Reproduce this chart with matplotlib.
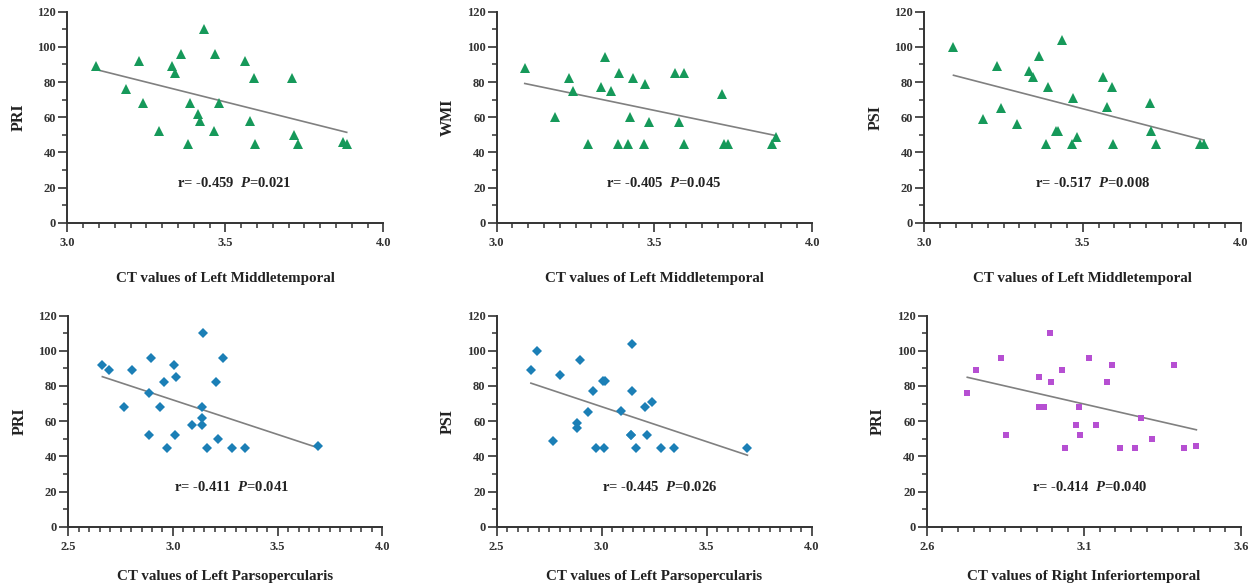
import numpy as np
import matplotlib
matplotlib.use("Agg")
import matplotlib.pyplot as plt
from matplotlib.ticker import MultipleLocator, FormatStrFormatter

plt.rcParams['font.family'] = ['Liberation Serif', 'DejaVu Serif']
plt.rcParams['font.weight'] = 'bold'
plt.rcParams['mathtext.fontset'] = 'custom'
plt.rcParams['mathtext.it'] = 'Liberation Serif:italic:bold'
plt.rcParams['mathtext.rm'] = 'Liberation Serif:bold'
plt.rcParams['mathtext.bf'] = 'Liberation Serif:bold'

# top row: CT values of Left Middletemporal
mt_x_pri = [3.09, 3.185, 3.228, 3.238, 3.289, 3.330, 3.341, 3.360, 3.383, 3.387, 3.412, 3.420, 3.431,
            3.464, 3.468, 3.479, 3.563, 3.577, 3.591, 3.594, 3.712, 3.717, 3.730, 3.871, 3.884]
mt_pri = [89, 76, 92, 68, 52, 89, 85, 96, 45, 68, 62, 58, 110,
          52, 96, 68, 92, 58, 82, 45, 82, 50, 45, 46, 45]

mt_x_wmi = [3.089, 3.186, 3.229, 3.241, 3.290, 3.331, 3.343, 3.361, 3.383, 3.389, 3.415, 3.421, 3.433,
            3.466, 3.470, 3.482, 3.564, 3.578, 3.593, 3.595, 3.714, 3.719, 3.732, 3.873, 3.886]
mt_wmi = [88, 60, 82, 75, 45, 77, 94, 75, 45, 85, 45, 60, 82,
          45, 79, 57, 85, 57, 85, 45, 73, 45, 45, 45, 49]

mt_x_psi = [3.092, 3.186, 3.229, 3.241, 3.292, 3.332, 3.343, 3.362, 3.383, 3.389, 3.415, 3.423, 3.434,
            3.465, 3.469, 3.481, 3.563, 3.578, 3.592, 3.595, 3.713, 3.717, 3.731, 3.871, 3.883]
mt_psi = [100, 59, 89, 65, 56, 86, 83, 95, 45, 77, 52, 52, 104,
          45, 71, 49, 83, 66, 77, 45, 68, 52, 45, 45, 45]

# bottom row: Left Parsopercularis / Right Inferiortemporal
po_x_pri = [2.663, 2.694, 2.767, 2.803, 2.886, 2.886, 2.897, 2.937, 2.959, 2.971, 3.006, 3.008, 3.016,
            3.092, 3.138, 3.138, 3.141, 3.143, 3.162, 3.208, 3.217, 3.237, 3.284, 3.344, 3.695]
po_pri = [92, 89, 68, 89, 76, 52, 96, 68, 82, 45, 92, 52, 85,
          58, 62, 58, 68, 110, 45, 82, 50, 96, 45, 45, 46]

po_x_psi = [2.663, 2.694, 2.768, 2.803, 2.884, 2.884, 2.897, 2.935, 2.959, 2.971, 3.005, 3.010, 3.017,
            3.094, 3.138, 3.141, 3.143, 3.143, 3.162, 3.208, 3.217, 3.238, 3.284, 3.344, 3.694]
po_psi = [89, 100, 49, 86, 56, 59, 95, 65, 77, 45, 83, 45, 83,
          66, 52, 52, 77, 104, 45, 68, 52, 71, 45, 45, 45]

it_x_pri = [2.729, 2.758, 2.835, 2.851, 2.956, 2.958, 2.972, 2.992, 2.994, 3.031, 3.039, 3.075, 3.085,
            3.089, 3.117, 3.140, 3.175, 3.189, 3.215, 3.264, 3.282, 3.317, 3.386, 3.418, 3.458]
it_pri = [76, 89, 96, 52, 68, 85, 68, 110, 82, 89, 45, 58, 68,
          52, 96, 58, 82, 92, 45, 45, 62, 50, 92, 45, 46]

panels = [
    (mt_x_pri, mt_pri, 'PRI', 'CT values of Left Middletemporal', 'r= -0.459  ', '=0.021', (3.0, 4.0)),
    (mt_x_wmi, mt_wmi, 'WMI', 'CT values of Left Middletemporal', 'r= -0.405  ', '=0.045', (3.0, 4.0)),
    (mt_x_psi, mt_psi, 'PSI', 'CT values of Left Middletemporal', 'r= -0.517  ', '=0.008', (3.0, 4.0)),
    (po_x_pri, po_pri, 'PRI', 'CT values of Left Parsopercularis', 'r= -0.411  ', '=0.041', (2.5, 4.0)),
    (po_x_psi, po_psi, 'PSI', 'CT values of Left Parsopercularis', 'r= -0.445  ', '=0.026', (2.5, 4.0)),
    (it_x_pri, it_pri, 'PRI', 'CT values of Right Inferiortemporal', 'r= -0.414  ', '=0.040', (2.6, 3.6)),
]
markers = ['^', '^', '^', 'D', 'D', 's']
colors = ['#16995a', '#16995a', '#16995a', '#1b7fb6', '#1b7fb6', '#b64fd2']
sizes = [7.5, 7.5, 7.5, 5.2, 5.2, 5.0]

# axes rectangles in figure fractions
rects = [
    (0.0535, 0.618, 0.2510, 0.362),
    (0.3945, 0.618, 0.2507, 0.362),
    (0.7342, 0.618, 0.2515, 0.362),
    (0.0542, 0.0966, 0.2494, 0.362),
    (0.3945, 0.0966, 0.2502, 0.362),
    (0.7361, 0.0966, 0.2496, 0.362),
]
text_x = [0.527, 0.529, 0.53, 0.52, 0.518, 0.518]
xlabel_y = [-0.262, -0.262, -0.262, -0.237, -0.237, -0.237]

fig = plt.figure(figsize=(12.59, 5.83), dpi=100)

for i, (x, y, ylab, xlab, rtxt, ptxt, xlim) in enumerate(panels):
    ax = fig.add_axes(rects[i])
    x = np.array(x)
    y = np.array(y)
    ax.plot(x, y, linestyle='none', marker=markers[i], color=colors[i],
            markersize=sizes[i], markeredgewidth=0, zorder=3)
    # least squares line over the data range
    k, b = np.polyfit(x, y, 1)
    xx = np.array([x.min(), x.max()])
    ax.plot(xx, k * xx + b, color='#808080', linewidth=1.2, zorder=2)

    ax.set_xlim(*xlim)
    ax.set_ylim(0, 120)
    ax.set_xticks(np.arange(xlim[0], xlim[1] + 0.01, 0.5))
    ax.set_xticks(np.arange(xlim[0], xlim[1] + 0.01, 0.05), minor=True)
    ax.yaxis.set_major_locator(MultipleLocator(20))
    ax.yaxis.set_minor_locator(MultipleLocator(10))
    ax.xaxis.set_major_formatter(FormatStrFormatter('%.1f'))
    for s in ['top', 'right']:
        ax.spines[s].set_visible(False)
    for s in ['left', 'bottom']:
        ax.spines[s].set_linewidth(1.4)
        ax.spines[s].set_color('#333333')
    ax.tick_params(which='major', length=6.5, width=1.2, color='#333333', labelsize=9,
                   labelcolor='#333333')
    ax.tick_params(which='minor', length=3.5, width=1.1, color='#333333')
    ax.tick_params(axis='x', which='major', pad=4)
    ax.tick_params(axis='y', which='major', pad=1.5)
    for lab in ax.get_xticklabels() + ax.get_yticklabels():
        lab.set_fontweight('bold')

    ax.set_ylabel(ylab, fontsize=11.5, fontweight='bold', color='#222222')
    ax.yaxis.set_label_coords(-0.155, 0.5)
    ax.yaxis.label.set_va('center')
    ax.set_xlabel(xlab, fontsize=10.8, fontweight='bold', color='#222222')
    ax.xaxis.set_label_coords(0.5, xlabel_y[i])
    ax.xaxis.label.set_va('center')

    ax.text(text_x[i], 0.19, rtxt + r'$\mathit{P}$' + ptxt, transform=ax.transAxes,
            ha='center', va='center', fontsize=10.5, fontweight='bold', color='#222222')

fig.savefig('out.png', dpi=100)
